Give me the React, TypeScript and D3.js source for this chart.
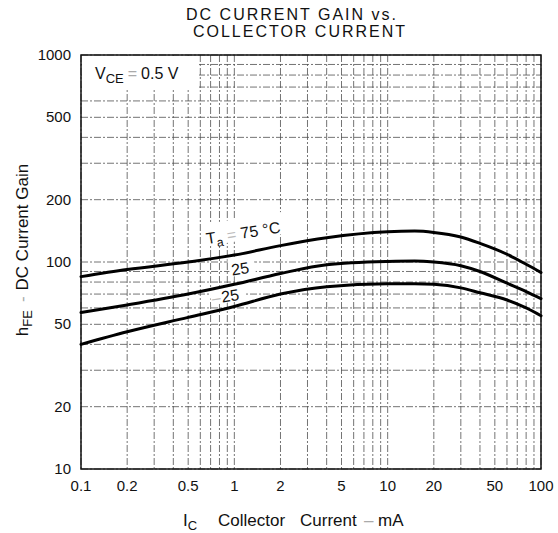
import React, { useEffect } from "react";
import * as d3 from "d3";

// collector current (mA)
const currents = [0.1, 0.2, 0.5, 1, 2, 4, 10, 15, 20, 30, 40, 60, 80, 100];
const hfe75 = [85, 92, 100, 108, 120, 131, 140, 141, 139, 132, 123, 109, 97.5, 89];
const hfe25 = [57, 62, 70, 78, 88, 97, 100.5, 101, 100, 96, 90, 79, 72, 66.5];
const hfeM25 = [40, 46, 54, 61, 70, 76, 78.5, 78.5, 78, 75, 71, 65.5, 60, 55];

const xTicks = [0.1, 0.2, 0.5, 1, 2, 5, 10, 20, 50, 100];
const yTicks = [10, 20, 50, 100, 200, 500, 1000];

const decadeGrid = (lo: number, hi: number) => {
  const out: number[] = [];
  for (let d = lo; d < hi; d *= 10) for (let k = 1; k < 10; k++) out.push(+(d * k).toPrecision(3));
  out.push(hi);
  return out;
};

const W = 558;
const H = 533;
const M = { l: 81, r: 17, t: 55, b: 64 };
const FONT = "'Liberation Sans', Arial, Helvetica, sans-serif";

export default function App() {
  useEffect(() => {
    document.body.style.margin = "0";
  }, []);

  const x = d3.scaleLog().domain([0.1, 100]).range([M.l, W - M.r]);
  const y = d3.scaleLog().domain([10, 1000]).range([H - M.b, M.t]);

  const line = d3
    .line<[number, number]>()
    .x((d) => x(d[0]))
    .y((d) => y(d[1]))
    .curve(d3.curveMonotoneX);

  const series = [hfe75, hfe25, hfeM25].map((vals) =>
    currents.map((c, i) => [c, vals[i]] as [number, number])
  );

  const gridX = decadeGrid(0.1, 100);
  const gridY = decadeGrid(10, 1000);
  const dash = "7,2,2,2";

  return (
    <svg width={W} height={H} style={{ display: "block", background: "#fff" }} fontFamily={FONT}>
      {/* title */}
      <text x={292} y={20} textAnchor="middle" fontSize={16} letterSpacing={2} fill="#111">
        DC CURRENT GAIN vs.
      </text>
      <text x={300} y={37} textAnchor="middle" fontSize={16} letterSpacing={2} fill="#111">
        COLLECTOR CURRENT
      </text>

      {/* grid */}
      <g stroke="#333" strokeWidth={0.8} strokeDasharray={dash} opacity={0.85}>
        {gridX.map((v) => (
          <line key={"gx" + v} x1={x(v)} x2={x(v)} y1={y(1000)} y2={y(10)} />
        ))}
        {gridY.map((v) => (
          <line key={"gy" + v} x1={x(0.1)} x2={x(100)} y1={y(v)} y2={y(v)} />
        ))}
      </g>

      {/* white patches behind labels */}
      <rect x={x(0.1) + 1} y={y(1000) + 1} width={117} height={32} fill="#fff" />
      <g transform="rotate(-9 245 232)">
        <rect x={203} y={218} width={84} height={22} fill="#fff" />
      </g>
      <g transform="rotate(-9 242 268)">
        <rect x={229} y={257} width={26} height={18} fill="#fff" />
      </g>
      <g transform="rotate(-9 232 294)">
        <rect x={210} y={284} width={35} height={18} fill="#fff" />
      </g>

      {/* frame */}
      <rect
        x={x(0.1)}
        y={y(1000)}
        width={x(100) - x(0.1)}
        height={y(10) - y(1000)}
        fill="none"
        stroke="#111"
        strokeWidth={1.5}
      />

      {/* curves */}
      {series.map((s, i) => (
        <path key={i} d={line(s) ?? ""} fill="none" stroke="#000" strokeWidth={3} strokeLinecap="round" />
      ))}

      {/* curve labels */}
      <g fontSize={16} fill="#111">
        <text transform="rotate(-9 215 243)" x={207} y={243}>
          T<tspan fontSize={12} dy={4}>a</tspan>
          <tspan dy={-4} fill="#bbb"> = </tspan>
          <tspan>75 °C</tspan>
        </text>
        <text transform="rotate(-9 242 273)" x={232} y={274}>
          25
        </text>
        <text transform="rotate(-9 232 300)" x={212} y={301}>
          <tspan fill="#bbb">–</tspan>
          <tspan dx={1}>25</tspan>
        </text>
      </g>

      {/* V_CE annotation */}
      <text x={95} y={79} fontSize={16} fill="#111">
        V<tspan fontSize={13} dy={4}>CE</tspan>
        <tspan dy={-4} dx={4} fill="#aaa">=</tspan>
        <tspan dx={4}>0.5 V</tspan>
      </text>

      {/* y ticks */}
      <g fontSize={15} fill="#111" textAnchor="end">
        {yTicks.map((v) => (
          <text key={"yt" + v} x={x(0.1) - 10} y={y(v) + 5}>
            {v}
          </text>
        ))}
      </g>
      {/* x ticks */}
      <g fontSize={15} fill="#111" textAnchor="middle">
        {xTicks.map((v) => (
          <text key={"xt" + v} x={x(v)} y={y(10) + 22}>
            {v}
          </text>
        ))}
      </g>

      {/* axis titles */}
      <g fontSize={17} fill="#111">
        <text x={183} y={526}>
          I<tspan fontSize={13} dy={4}>C</tspan>
        </text>
        <text x={218} y={526}>Collector</text>
        <text x={300} y={526}>Current</text>
        <text x={364} y={526} fill="#aaa">–</text>
        <text x={378} y={526}>mA</text>
      </g>
      <text transform="rotate(-90 28 250)" x={28} y={250} textAnchor="middle" fontSize={17} fill="#111">
        h<tspan fontSize={13} dy={4}>FE</tspan>
        <tspan dy={-4} dx={8} fill="#aaa">-</tspan>
        <tspan dx={6}>DC Current Gain</tspan>
      </text>
    </svg>
  );
}
